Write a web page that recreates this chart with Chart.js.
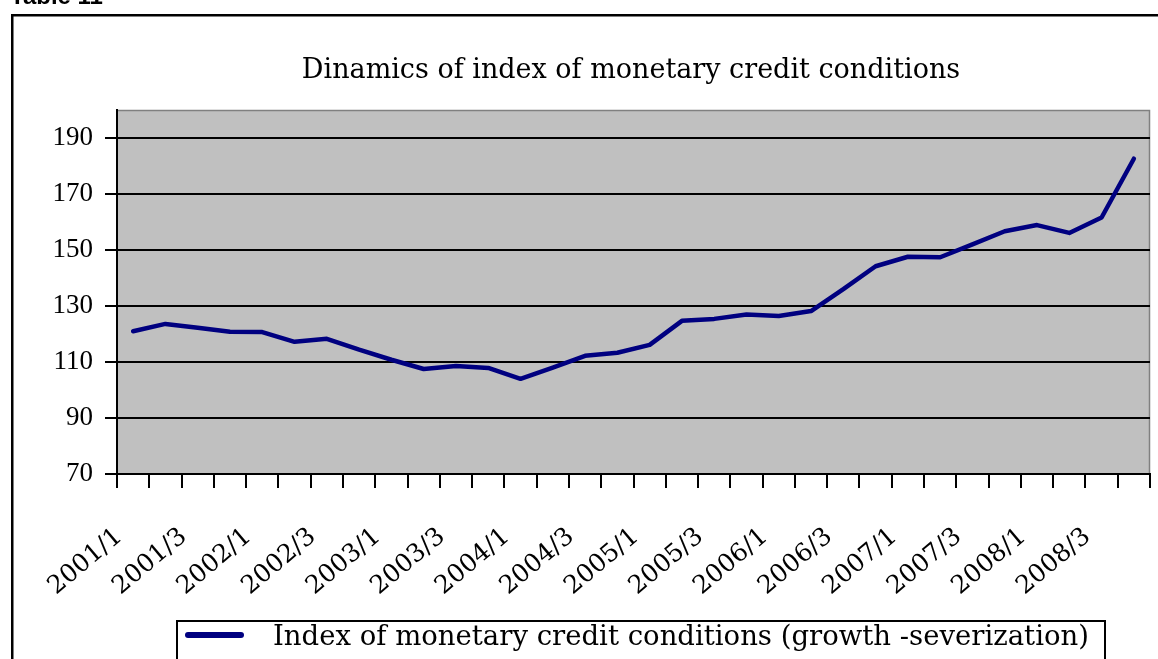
<!DOCTYPE html>
<html>
<head>
<meta charset="utf-8">
<script src="https://cdn.jsdelivr.net/npm/chart.js@4.4.1/dist/chart.umd.min.js"></script>
<style>
  html, body { margin: 0; padding: 0; background: #ffffff; }
  #wrap { position: relative; width: 1158px; height: 659px; overflow: hidden; }
  canvas { display: block; }
</style>
</head>
<body>
<div id="wrap"><canvas id="chart" width="1158" height="659"></canvas></div>
<script>
// Quarterly periods 2001/1 .. 2008/4
const quarters = [
  '2001/1','2001/2','2001/3','2001/4',
  '2002/1','2002/2','2002/3','2002/4',
  '2003/1','2003/2','2003/3','2003/4',
  '2004/1','2004/2','2004/3','2004/4',
  '2005/1','2005/2','2005/3','2005/4',
  '2006/1','2006/2','2006/3','2006/4',
  '2007/1','2007/2','2007/3','2007/4',
  '2008/1','2008/2','2008/3','2008/4'
];

// Index of monetary credit conditions
const indexValues = [
  121.0, 123.6, 122.2, 120.8,
  120.7, 117.2, 118.3, 114.4,
  110.8, 107.5, 108.6, 107.9,
  104.0, 108.0, 112.2, 113.3,
  116.1, 124.7, 125.4, 127.0,
  126.4, 128.2, 136.0, 144.2,
  147.6, 147.4, 152.0, 156.7,
  158.9, 156.1, 161.6, 182.6
];

const yTicks = [70, 90, 110, 130, 150, 170, 190];

const seriesName = 'Index of monetary credit conditions (growth -severization)';
const chartTitle = 'Dinamics of index of monetary credit conditions';
const tableCaption = 'Table 11';

const SERIF = '"DejaVu Serif", "Liberation Serif", serif';
const TIMES = '"Liberation Serif", "Times New Roman", serif';
const NAVY = '#000080';

// Page decorations: frame, caption, title, plot background and legend box
const decorations = {
  id: 'decorations',
  beforeDraw(chart) {
    const { ctx, chartArea: a } = chart;
    ctx.save();
    ctx.fillStyle = '#ffffff';
    ctx.fillRect(0, 0, chart.width, chart.height);
    ctx.fillStyle = '#c0c0c0';
    ctx.fillRect(a.left, a.top, a.right - a.left, a.bottom - a.top);
    ctx.strokeStyle = '#808080';
    ctx.lineWidth = 1.5;
    ctx.beginPath();
    ctx.moveTo(a.left, a.top + 0.5);
    ctx.lineTo(a.right - 0.5, a.top + 0.5);
    ctx.lineTo(a.right - 0.5, a.bottom);
    ctx.stroke();
    ctx.restore();
  },
  afterDraw(chart) {
    const { ctx } = chart;
    ctx.save();
    // outer frame
    ctx.strokeStyle = '#000000';
    ctx.lineWidth = 2.5;
    ctx.strokeRect(12.25, 15.25, 1300, 800);

    // caption above the frame
    ctx.fillStyle = '#000000';
    ctx.font = 'bold 24px "Liberation Sans", Arial, sans-serif';
    ctx.textAlign = 'left';
    ctx.textBaseline = 'alphabetic';
    ctx.fillText(tableCaption, 10, 4);

    // chart title
    ctx.font = '27px ' + SERIF;
    ctx.textAlign = 'center';
    ctx.fillText(chartTitle, 631, 78);

    // legend
    const lx = 177, ly = 621, lw = 928, lh = 60;
    ctx.lineWidth = 2;
    ctx.strokeStyle = '#000000';
    ctx.strokeRect(lx, ly, lw, lh);
    const ds = chart.data.datasets[0];
    ctx.strokeStyle = ds.borderColor;
    ctx.lineWidth = 6;
    ctx.lineCap = 'round';
    ctx.beginPath();
    ctx.moveTo(188, 635);
    ctx.lineTo(241, 635);
    ctx.stroke();
    ctx.fillStyle = '#000000';
    ctx.font = '27.5px ' + SERIF;
    ctx.textAlign = 'left';
    ctx.fillText(ds.label, 273, 645);
    ctx.restore();
  }
};

new Chart(document.getElementById('chart'), {
  type: 'line',
  data: {
    labels: quarters,
    datasets: [{
      label: seriesName,
      data: indexValues,
      borderColor: NAVY,
      backgroundColor: NAVY,
      borderWidth: 4.5,
      pointRadius: 0,
      tension: 0,
      borderJoinStyle: 'round',
      borderCapStyle: 'round'
    }]
  },
  options: {
    responsive: false,
    animation: false,
    devicePixelRatio: 1,
    layout: { padding: { left: 17, right: 8, top: 110, bottom: 45 } },
    plugins: {
      legend: { display: false },
      title: { display: false },
      tooltip: { enabled: false }
    },
    scales: {
      x: {
        type: 'category',
        offset: true,
        afterFit(scale) {
          scale.height = 140;
          scale.paddingLeft = 0;
          scale.paddingRight = 0;
        },
        grid: {
          display: true,
          offset: true,
          drawOnChartArea: false,
          drawTicks: true,
          tickLength: 14,
          color: '#000000',
          lineWidth: 2
        },
        border: { display: true, color: '#000000', width: 2 },
        ticks: {
          autoSkip: false,
          maxRotation: 40,
          minRotation: 40,
          padding: 34,
          labelOffset: -14,
          color: '#000000',
          font: { family: SERIF, size: 25 },
          callback(value, index) {
            return index % 2 === 0 ? quarters[index] : '';
          }
        }
      },
      y: {
        min: 70,
        max: 200,
        afterFit(scale) {
          scale.width = 100;
          scale.paddingTop = 0;
          scale.paddingBottom = 0;
        },
        afterBuildTicks(scale) {
          scale.ticks = yTicks.map(v => ({ value: v }));
        },
        grid: {
          color: '#000000',
          lineWidth: 2,
          drawTicks: true,
          tickLength: 12
        },
        border: { display: true, color: '#000000', width: 2 },
        ticks: {
          padding: 12,
          color: '#000000',
          font: { family: TIMES, size: 27 }
        }
      }
    }
  },
  plugins: [decorations]
});
</script>
</body>
</html>
